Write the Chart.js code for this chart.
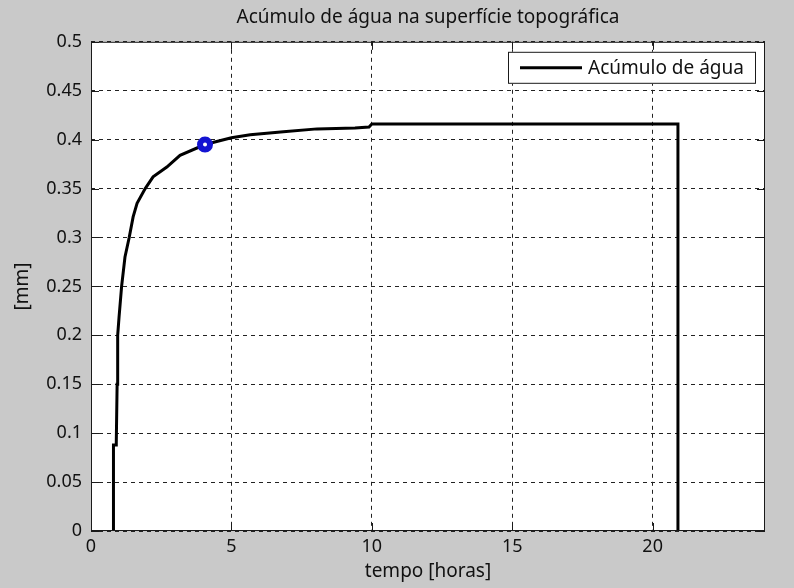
<!DOCTYPE html>
<html>
<head>
<meta charset="utf-8">
<script src="https://cdn.jsdelivr.net/npm/chart.js@4/dist/chart.umd.min.js"></script>
<style>
  body { margin: 0; background: #c9c9c9; }
  canvas { display: block; }
</style>
</head>
<body>
<canvas id="myChart" width="794" height="588"></canvas>
<script>
// curva (tempo em horas, acúmulo em mm)
const tempoHoras = [0.8, 0.8, 0.9, 0.9, 0.93, 0.95, 1.0, 1.09, 1.21, 1.36, 1.5, 1.64, 1.93, 2.21, 2.7, 3.17, 4.06, 5.0, 5.67, 6.85, 8.05, 9.4, 9.9, 10.0, 20.9, 20.9];
const acumuloMm = [0, 0.088, 0.088, 0.09, 0.15, 0.2, 0.219, 0.25, 0.28, 0.3, 0.321, 0.335, 0.35, 0.362, 0.372, 0.384, 0.395, 0.402, 0.405, 0.408, 0.411, 0.412, 0.413, 0.416, 0.416, 0];
const marcadorX = [4.06];
const marcadorY = [0.395];
const xTicks = [0, 5, 10, 15, 20];
const xTickLabels = ["0", "5", "10", "15", "20"];
const yTicks = [0, 0.05, 0.1, 0.15, 0.2, 0.25, 0.3, 0.35, 0.4, 0.45, 0.5];
const yTickLabels = ["0", "0.05", "0.1", "0.15", "0.2", "0.25", "0.3", "0.35", "0.4", "0.45", "0.5"];

const fonte = "'Noto Sans', sans-serif";

const linha = tempoHoras.map((t, i) => ({x: t, y: acumuloMm[i]}));
const marca = marcadorX.map((t, i) => ({x: t, y: marcadorY[i]}));

// fundo branco da área do gráfico, caixa, ticks para dentro e legenda
const caixaPlugin = {
  id: 'caixa',
  beforeDraw(chart) {
    const {ctx, chartArea: a} = chart;
    ctx.save();
    ctx.fillStyle = '#ffffff';
    ctx.fillRect(a.left, a.top, a.right - a.left, a.bottom - a.top);
    ctx.restore();
  },
  afterDraw(chart) {
    const {ctx, chartArea: a} = chart;
    const sx = chart.scales.x, sy = chart.scales.y;
    ctx.save();
    ctx.strokeStyle = '#1a1a1a';
    ctx.lineWidth = 1;
    ctx.strokeRect(a.left + 0.5, a.top + 0.5, a.right - a.left - 1, a.bottom - a.top - 1);
    const tl = 8;
    ctx.beginPath();
    xTicks.forEach(v => {
      const px = Math.round(sx.getPixelForValue(v)) + 0.5;
      ctx.moveTo(px, a.bottom); ctx.lineTo(px, a.bottom - tl);
      ctx.moveTo(px, a.top); ctx.lineTo(px, a.top + tl);
    });
    yTicks.forEach(v => {
      const py = Math.round(sy.getPixelForValue(v)) + 0.5;
      ctx.moveTo(a.left, py); ctx.lineTo(a.left + tl, py);
      ctx.moveTo(a.right, py); ctx.lineTo(a.right - tl, py);
    });
    ctx.stroke();

    // legenda
    const lw = 248, lh = 32;
    const lx = a.right - 9 - lw, ly = a.top + 10;
    ctx.fillStyle = '#ffffff';
    ctx.fillRect(lx, ly, lw, lh);
    ctx.strokeStyle = '#1a1a1a';
    ctx.strokeRect(lx + 0.5, ly + 0.5, lw - 1, lh - 1);
    ctx.beginPath();
    ctx.lineWidth = 3;
    ctx.strokeStyle = '#000000';
    ctx.moveTo(lx + 12, ly + lh / 2);
    ctx.lineTo(lx + 74, ly + lh / 2);
    ctx.stroke();
    ctx.fillStyle = '#111111';
    ctx.font = "19px " + fonte;
    ctx.textBaseline = 'middle';
    ctx.fillText(chart.data.datasets[0].label, lx + 80, ly + lh / 2 + 1);
    ctx.restore();
  }
};

const myChart = new Chart("myChart", {
  type: 'scatter',
  data: {
    datasets: [{
      label: 'Acúmulo de água',
      data: linha,
      showLine: true,
      borderColor: '#000000',
      borderWidth: 3,
      pointRadius: 0,
      tension: 0,
      order: 1
    }, {
      label: 'marcador',
      data: marca,
      showLine: false,
      pointRadius: 5,
      pointBorderWidth: 6,
      pointBorderColor: '#1414d2',
      pointBackgroundColor: '#ffffff',
      order: 0
    }]
  },
  options: {
    responsive: false,
    animation: false,
    layout: {padding: {right: 29, left: 0, top: 0, bottom: 0}},
    plugins: {
      legend: {display: false},
      tooltip: {enabled: false},
      title: {
        display: true,
        text: 'Acúmulo de água na superfície topográfica',
        fullSize: false,
        color: '#111111',
        font: {family: fonte, size: 19, weight: 'normal'},
        padding: {top: 6, bottom: 13}
      }
    },
    scales: {
      x: {
        type: 'linear',
        min: 0,
        max: 24,
        afterBuildTicks: s => { s.ticks = xTicks.map(v => ({value: v})); },
        afterFit: s => { s.height = 57; },
        ticks: {
          padding: 5,
          color: '#111111',
          font: {family: fonte, size: 18},
          maxRotation: 0,
          callback: (v) => xTickLabels[xTicks.indexOf(v)]
        },
        grid: {color: '#222222', drawTicks: false, lineWidth: 1},
        border: {display: false, dash: [4, 4]},
        title: {
          display: true,
          text: 'tempo [horas]',
          color: '#111111',
          font: {family: fonte, size: 19},
          padding: {top: 0, bottom: 5}
        }
      },
      y: {
        type: 'linear',
        min: 0,
        max: 0.5,
        afterBuildTicks: s => { s.ticks = yTicks.map(v => ({value: v})); },
        afterFit: s => { s.width = 91; },
        ticks: {
          padding: 9,
          color: '#111111',
          font: {family: fonte, size: 18},
          callback: (v) => yTickLabels[yTicks.indexOf(v)]
        },
        grid: {color: '#222222', drawTicks: false, lineWidth: 1},
        border: {display: false, dash: [4, 4]},
        title: {
          display: true,
          text: '[mm]',
          color: '#111111',
          font: {family: fonte, size: 19},
          padding: {top: 11, bottom: 0}
        }
      }
    }
  },
  plugins: [caixaPlugin]
});
</script>
</body>
</html>
